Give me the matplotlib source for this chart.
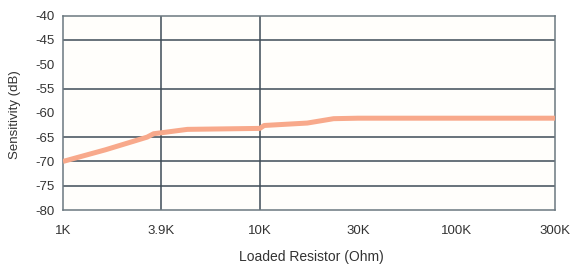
import numpy as np
import matplotlib
matplotlib.use("Agg")
import matplotlib.pyplot as plt

# Data (resistance in kOhm, sensitivity in dB)
tick_values = [1.0, 3.9, 10.0, 30.0, 100.0, 300.0]
tick_labels = ["1K", "3.9K", "10K", "30K", "100K", "300K"]
resistance = [1.0, 1.8, 3.2, 3.5, 3.9, 5.0, 10.0, 10.5, 17.0, 22.8, 30.0, 300.0]
sensitivity = [-70.0, -67.6, -65.0, -64.3, -64.1, -63.4, -63.2, -62.6, -62.1, -61.2, -61.1, -61.1]
y_ticks = [-40, -45, -50, -55, -60, -65, -70, -75, -80]
grid_y = [-45, -55, -65, -70, -75]
grid_x = [3.9, 10.0]

logt = np.log10(tick_values)
idx = np.arange(len(tick_values), dtype=float)

def fwd(x):
    x = np.clip(np.asarray(x, dtype=float), 1e-9, None)
    return np.interp(np.log10(x), logt, idx)

def inv(p):
    return 10 ** np.interp(np.asarray(p, dtype=float), idx, logt)

plt.rcParams['font.family'] = ['Liberation Sans', 'DejaVu Sans']

fig = plt.figure(figsize=(5.74, 2.65), dpi=100)
ax = fig.add_axes([0.1098, 0.2075, 0.857, 0.7333])
ax.set_facecolor('#fffefb')
ax.set_xscale('function', functions=(fwd, inv))
ax.set_xlim(1.0, 300.0)
ax.set_ylim(-80, -40)

gc = '#3e4c57'
for g in grid_y:
    ax.axhline(g, color=gc, lw=1.1, zorder=1)
for g in grid_x:
    ax.axvline(g, color=gc, lw=1.1, zorder=1)

ax.plot(resistance, sensitivity, color='#f8a98b', lw=3.6, solid_capstyle='butt', zorder=3)

ax.set_xticks(tick_values)
ax.set_xticklabels(tick_labels)
ax.xaxis.set_minor_locator(matplotlib.ticker.NullLocator())
ax.set_yticks(y_ticks)
ax.set_yticklabels([str(v) for v in y_ticks])
ax.tick_params(axis='both', length=0, labelsize=9.5, colors='#333333')
ax.tick_params(axis='x', pad=11)
ax.tick_params(axis='y', pad=6)
for s in ax.spines.values():
    s.set_color('#6b7880')
    s.set_linewidth(1.1)

fig.text(0.026, 0.566, 'Sensitivity (dB)', rotation=90, ha='center', va='center',
         fontsize=9.5, color='#333333')
fig.text(0.542, 0.03, 'Loaded Resistor (Ohm)', ha='center', va='center',
         fontsize=10, color='#333333')

fig.savefig('out.png', dpi=100, facecolor='white')
